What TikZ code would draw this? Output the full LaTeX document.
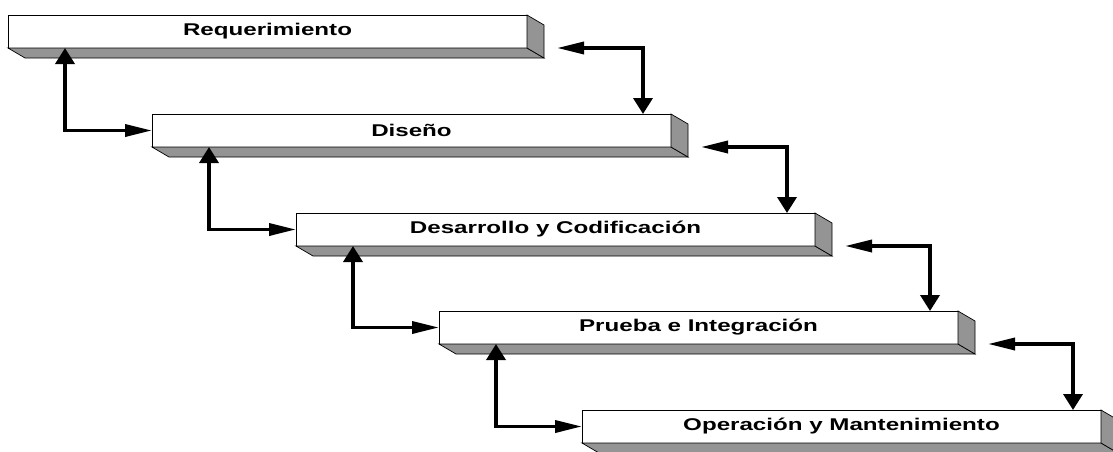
\documentclass[tikz,border=0pt]{standalone}
\usepackage{fontspec}
\usetikzlibrary{arrows.meta}
\newfontfamily\lblfont{Liberation Sans}
\tikzset{
  stage/.style={draw=black, line width=0.8pt, fill=white, rectangle, anchor=north west,
    minimum width=519pt, minimum height=33pt, inner sep=0pt, outer sep=0pt,
    font=\lblfont\bfseries\fontsize{17}{19}\selectfont},
  face/.style={draw=black, line width=0.7pt, fill=black!42},
  conn/.style={line width=3.6pt, black},
  vtip/.tip={Triangle[length=16pt, width=19pt]},
  htip/.tip={Triangle[length=27pt, width=12pt]}
}
\newcommand{\lbl}[1]{\scalebox{1.42}[1]{#1}}
\begin{document}
\begin{tikzpicture}[x=1pt, y=-1pt]
\useasboundingbox (0,0) rectangle (1113,451);
\node[stage] (b1) at (8,15)   {\lbl{Requerimiento}};
\node[stage] (b2) at (152,114) {\lbl{Diseño}};
\node[stage] (b3) at (296,213) {\lbl{Desarrollo y Codificación}};
\node[stage] (b4) at (439,311) {\lbl{Prueba e Integración}};
\node[stage] (b5) at (582,410) {\lbl{Operación y Mantenimiento}};
\foreach \n in {b1,b2,b3,b4,b5} {
  \filldraw[face] (\n.south west) -- (\n.south east) -- ([shift={(17,10)}]\n.south east) -- ([shift={(17,10)}]\n.south west) -- cycle;
  \filldraw[face] (\n.north east) -- ([shift={(17,10)}]\n.north east) -- ([shift={(17,10)}]\n.south east) -- (\n.south east) -- cycle;
}
\foreach \a/\b in {b1/b2,b2/b3,b3/b4,b4/b5} {
  \draw[conn, {vtip}-{htip}] ([xshift=57pt]\a.south west) |- (\b.west);
  \draw[conn, {htip}-{vtip}] ([xshift=30pt]\a.south east) -| ([xshift=-28pt]\b.north east);
}
\end{tikzpicture}
\end{document}
